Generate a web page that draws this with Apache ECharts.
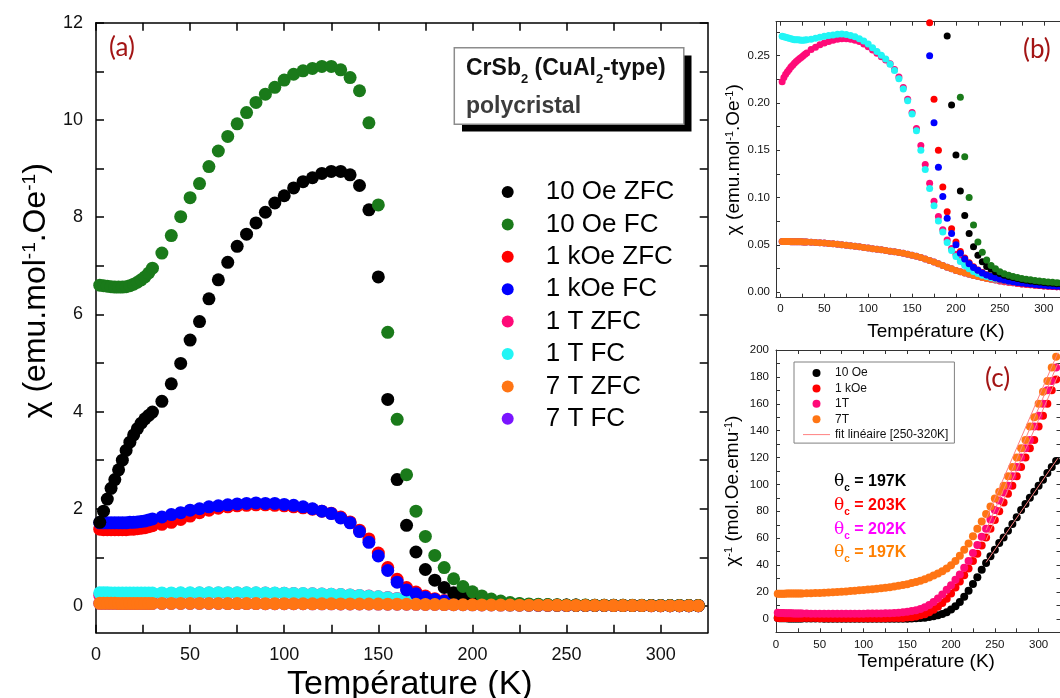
<!DOCTYPE html>
<html><head><meta charset="utf-8">
<script src="https://cdn.jsdelivr.net/npm/echarts@6/dist/echarts.min.js"></script>
<style>html,body{margin:0;padding:0;background:#fff}#c{width:1060px;height:698px}</style>
</head><body><div id="c"></div>
<script>
// ---------- DATA ----------
const TEMPS = [2,4,6,8,10,12,14,16,18,20,22,24,26,28,30,35,40,45,50,55,60,65,70,75,80,85,90,95,100,105,110,115,120,125,130,135,140,145,150,155,160,165,170,175,180,185,190,195,200,205,210,215,220,225,230,235,240,245,250,255,260,265,270,275,280,285,290,295,300,305,310,315,320];

// chi (emu/mol/Oe), panels (a) and (b)
const chi10Oe_ZFC = [1.72,1.95,2.20,2.42,2.60,2.80,3.00,3.20,3.37,3.52,3.65,3.76,3.85,3.92,3.99,
 4.21,4.57,4.99,5.47,5.85,6.32,6.71,7.07,7.40,7.65,7.88,8.10,8.29,8.44,
 8.60,8.73,8.81,8.90,8.94,8.94,8.87,8.65,8.15,6.77,4.25,2.60,1.66,1.11,
 0.75,0.53,0.38,0.271,0.198,0.145,0.107,0.081,0.062,0.048,0.039,0.032,0.027,0.024,
 0.0215,0.0195,0.0178,0.0165,0.0153,0.0142,0.0133,0.0124,0.0117,0.0111,0.0105,0.0100,0.0096,0.0092,0.0088,0.0085];
const chi10Oe_FC = [6.60,6.59,6.58,6.57,6.56,6.56,6.56,6.57,6.59,6.62,6.66,6.71,6.77,6.85,6.95,
 7.26,7.62,8.01,8.40,8.69,9.04,9.36,9.66,9.92,10.15,10.36,10.53,10.67,10.82,
 10.94,11.01,11.06,11.10,11.10,11.03,10.87,10.60,9.94,8.25,5.63,3.84,2.70,1.95,
 1.43,1.04,0.79,0.56,0.40,0.29,0.206,0.143,0.100,0.071,0.053,0.042,0.034,0.028,
 0.0245,0.0215,0.0193,0.0177,0.0164,0.0153,0.0144,0.0136,0.0129,0.0123,0.0117,0.0112,0.0107,0.0103,0.0099,0.0096];
const chi1kOe_ZFC = [1.58,1.57,1.57,1.57,1.57,1.57,1.57,1.57,1.58,1.58,1.59,1.60,1.61,1.63,1.65,
 1.68,1.72,1.78,1.85,1.92,1.97,2.01,2.04,2.06,2.07,2.08,2.08,2.07,2.06,
 2.04,2.02,1.99,1.95,1.91,1.83,1.73,1.56,1.38,1.09,0.79,0.55,0.38,0.285,
 0.204,0.150,0.111,0.085,0.067,0.053,0.043,0.036,0.031,0.0267,0.0233,0.0206,0.0183,0.0165,
 0.0149,0.0136,0.0125,0.0116,0.0108,0.0101,0.0094,0.0088,0.0083,0.0079,0.0075,0.0070,0.0066,0.0063,0.0059,0.0056];
const chi1kOe_FC = [1.71,1.71,1.71,1.71,1.71,1.71,1.71,1.71,1.72,1.72,1.73,1.74,1.75,1.77,1.79,
 1.83,1.88,1.92,1.97,2.00,2.04,2.06,2.08,2.10,2.11,2.12,2.11,2.11,2.09,
 2.07,2.04,2.00,1.95,1.90,1.81,1.71,1.53,1.31,1.03,0.73,0.49,0.33,0.250,
 0.179,0.132,0.101,0.078,0.062,0.050,0.041,0.035,0.030,0.026,0.023,0.020,0.018,0.0165,
 0.0150,0.0137,0.0126,0.0117,0.0109,0.0102,0.0095,0.0089,0.0084,0.0079,0.0075,0.0071,0.0067,0.0063,0.0060,0.0057];
const chi1T_ZFC = [0.2225,0.227,0.2305,0.233,0.2355,0.238,0.240,0.242,0.244,0.2455,0.247,0.2485,0.250,0.2515,0.253,
 0.2565,0.259,0.2615,0.2635,0.265,0.2665,0.2675,0.268,0.268,0.2675,0.2665,0.265,0.2625,0.2595,
 0.256,0.2525,0.249,0.2455,0.2415,0.2355,0.2275,0.2165,0.204,0.190,0.173,0.155,0.135,0.115,
 0.096,0.080,0.066,0.055,0.046,0.040,0.034,0.030,0.0263,0.0233,0.0204,0.0182,0.0164,0.0149,
 0.0135,0.0123,0.0114,0.0106,0.0101,0.0094,0.0088,0.0083,0.0079,0.0075,0.0070,0.0066,0.0063,0.0059,0.0056,0.0053];
const chi1T_FC = [0.2705,0.270,0.2695,0.269,0.2685,0.268,0.2675,0.267,0.267,0.2668,0.2666,0.2665,0.2665,0.2666,0.2668,
 0.2675,0.2685,0.2695,0.2705,0.2715,0.272,0.2728,0.273,0.2725,0.2715,0.270,0.268,0.2655,0.2625,
 0.2585,0.2545,0.2505,0.2465,0.241,0.2344,0.2256,0.2147,0.2024,0.1883,0.1706,0.150,0.1297,0.1096,
 0.0913,0.0751,0.0635,0.0525,0.044,0.0377,0.0324,0.028,0.0245,0.0218,0.0196,0.0178,0.0163,0.0150,
 0.0139,0.0130,0.0121,0.0114,0.0108,0.0102,0.0097,0.0092,0.0088,0.0084,0.0080,0.0077,0.0074,0.0071,0.0068,0.0066];
const chi7T_ZFC = [0.0535,0.0535,0.0534,0.0534,0.0534,0.0533,0.0533,0.0533,0.0532,0.0532,0.0531,0.0531,0.0530,0.0530,0.0529,
 0.0527,0.0524,0.0521,0.0518,0.0514,0.0510,0.0506,0.0501,0.0496,0.0490,0.0484,0.0478,0.0472,0.0465,
 0.0459,0.0452,0.0446,0.0439,0.0432,0.0425,0.0418,0.0410,0.0400,0.0390,0.0378,0.0365,0.0350,0.0334,
 0.0317,0.0299,0.0280,0.0262,0.0245,0.0229,0.0214,0.0200,0.0187,0.0175,0.0164,0.0154,0.0144,0.0135,
 0.0126,0.0118,0.0110,0.0103,0.0097,0.0091,0.0086,0.0081,0.0076,0.0072,0.0068,0.0064,0.0061,0.0058,0.0055,0.0052];
// 7 T FC lies underneath 7 T ZFC in the picture (indistinguishable)
const chi7T_FC = chi7T_ZFC;

// inverse chi (mol.Oe/emu), panel (c)
const inv10Oe = [0.58,0.51,0.45,0.41,0.38,0.36,0.33,0.31,0.30,0.28,0.27,0.27,0.26,0.26,0.25,
 0.24,0.22,0.20,0.18,0.17,0.16,0.15,0.14,0.14,0.13,0.13,0.12,0.12,0.12,
 0.12,0.11,0.11,0.11,0.11,0.11,0.11,0.12,0.12,0.15,0.24,0.38,0.60,0.90,
 1.3,1.9,2.6,3.7,5.0,6.9,9.3,12.5,16.5,21,26,31,36.5,41.5,
 46.5,51.5,56.5,60.5,65.5,70.5,75.5,81,85.5,90,94.5,99,103.5,108.5,113,117.5];
const inv1kOe = [0.63,0.64,0.64,0.64,0.64,0.64,0.64,0.64,0.63,0.63,0.63,0.63,0.62,0.61,0.61,
 0.60,0.58,0.56,0.54,0.52,0.51,0.50,0.49,0.49,0.48,0.48,0.48,0.48,0.49,
 0.49,0.50,0.50,0.51,0.52,0.55,0.58,0.64,0.72,0.92,1.27,1.82,2.6,3.5,
 4.9,6.7,9.0,11.8,14.9,18.9,23.3,27.8,32.5,37.5,43,48.5,54.5,60.5,
 67,73.5,80,86.5,93,99,106,113,120,127,133,143,151,160,170,178];
const inv1T = [4.50,4.41,4.34,4.29,4.25,4.20,4.17,4.13,4.10,4.07,4.05,4.02,4.00,3.98,3.95,
 3.90,3.86,3.82,3.80,3.77,3.75,3.74,3.73,3.73,3.74,3.75,3.77,3.81,3.85,
 3.90,3.96,4.02,4.07,4.15,4.26,4.40,4.63,4.90,5.26,5.80,6.45,7.40,8.70,
 10.4,12.5,15.2,18.2,21.7,25,29,33,38,43,49,55,61,67,
 74,81,88,94,99,106,113,120,127,133,143,151,160,170,177,187];
const inv7T = [18.7,18.7,18.7,18.7,18.7,18.8,18.8,18.8,18.8,18.8,18.8,18.8,18.9,18.9,18.9,
 19.0,19.1,19.2,19.3,19.5,19.6,19.8,20.0,20.2,20.4,20.7,20.9,21.2,21.5,
 21.8,22.1,22.4,22.8,23.2,23.6,24.1,24.6,25.2,25.8,26.6,27.4,28.4,29.5,
 30.8,32.2,33.8,35.5,37.5,39.8,43,47,51.5,56,61.5,67,72.5,78,
 83.5,89.5,94.5,99,106,113,120,127,133,143,150,160,169,177,187,195];
// linear fits [250-320 K] (end points)
const FIT_T = [240, 322];
const fit10Oe = [42, 119.5];
const fit1kOe = [58.6, 181];
const fit1T = [66, 190];
const fit7T = [74.4, 198];

// tick / label values
const X_TICKS = [0,25,50,75,100,125,150,175,200,225,250,275,300];
const X_LABELS = [0,50,100,150,200,250,300];
const A_Y_TICKS = [0,1,2,3,4,5,6,7,8,9,10,11,12];
const A_Y_LABELS = [0,2,4,6,8,10,12];
const B_Y_TICKS = [0,0.025,0.05,0.075,0.1,0.125,0.15,0.175,0.2,0.225,0.25,0.275];
const B_Y_LABELS = [0,0.05,0.1,0.15,0.2,0.25];
const C_Y_TICKS = [0,10,20,30,40,50,60,70,80,90,100,110,120,130,140,150,160,170,180,190,200];
const C_Y_LABELS = [0,20,40,60,80,100,120,140,160,180,200];

const NAMES_A = ['10 Oe ZFC','10 Oe FC','1 kOe ZFC','1 kOe FC','1 T ZFC','1 T FC','7 T ZFC','7 T FC'];
const NAMES_C = ['10 Oe','1 kOe','1T','7T'];
const FIT_NAME = 'fit linéaire [250-320K]';

// ---------- CHART ----------
const FONT = '"Liberation Sans", Arial, sans-serif';
const COL = {k:'#000000', g:'#1a7a1a', r:'#ff0000', b:'#0000ff', p:'#ff0a78', c:'#22f5f5', o:'#ff7514', v:'#7a14ff'};
const pairs = (t, v) => t.map((x, i) => [x, v[i]]);

function axis(o) {
  return {
    type: 'value', gridIndex: o.g, min: o.min, max: o.max, position: o.pos,
    axisLine: {show: true, onZero: false, lineStyle: {color: o.c, width: o.lw}},
    axisTick: {show: true, inside: true, length: o.tl, customValues: o.ticks, lineStyle: {color: o.c, width: o.lw}},
    axisLabel: {show: !!o.labels, customValues: o.labels || o.ticks, fontSize: o.fs || 12, color: '#111', fontFamily: FONT, margin: o.m || 8,
      formatter: o.fmt || (v => String(v))},
    minorTick: {show: false},
    splitLine: {show: false},
    name: o.name || '', nameLocation: 'middle', nameGap: o.ng || 0, nameMoveOverlap: false,
    nameTextStyle: o.nts || {}
  };
}
const sup = (fs, pb) => ({fontSize: fs, fontFamily: FONT, color: '#000', verticalAlign: 'bottom', padding: [0, 0, pb, 0]});

const xAxis = [
  axis({g:0,min:0,max:325,pos:'bottom',c:'#000',lw:1.5,tl:8,ticks:X_TICKS,labels:X_LABELS,fs:18,m:13,
    name:'Température (K)', ng:35, nts:{fontSize:34,fontFamily:FONT,color:'#000',padding:[0,0,0,16]}}),
  axis({g:0,min:0,max:325,pos:'top',c:'#000',lw:1.5,tl:8,ticks:X_TICKS}),
  axis({g:1,min:-5,max:325,pos:'bottom',c:'#333',lw:1,tl:4,ticks:X_TICKS,labels:X_LABELS,fs:11.5,m:5,
    name:'Température (K)', ng:25, nts:{fontSize:19,fontFamily:FONT,color:'#000',padding:[0,0,0,30]}}),
  axis({g:1,min:-5,max:325,pos:'top',c:'#333',lw:1,tl:4,ticks:X_TICKS}),
  axis({g:2,min:0,max:325,pos:'bottom',c:'#333',lw:1,tl:4,ticks:X_TICKS,labels:X_LABELS,fs:11.5,m:7,
    name:'Température (K)', ng:20, nts:{fontSize:19,fontFamily:FONT,color:'#000',padding:[0,0,0,16]}}),
  axis({g:2,min:0,max:325,pos:'top',c:'#333',lw:1,tl:4,ticks:X_TICKS})
];
const yAxis = [
  axis({g:0,min:-0.55,max:12,pos:'left',c:'#000',lw:1.5,tl:8,ticks:A_Y_TICKS,labels:A_Y_LABELS,fs:18,m:13,
    name:'χ (emu.mol{s|-1}.Oe{s|-1})', ng:44,
    nts:{fontSize:32,fontFamily:FONT,color:'#000',padding:[0,0,0,74],rich:{s:sup(19,13)}}}),
  axis({g:0,min:-0.55,max:12,pos:'right',c:'#000',lw:1.5,tl:8,ticks:A_Y_TICKS}),
  axis({g:1,min:-0.006,max:0.286,pos:'left',c:'#333',lw:1,tl:4,ticks:B_Y_TICKS,labels:B_Y_LABELS,fs:11.5,m:6,
    fmt:v=>v.toFixed(2),
    name:'χ (emu.mol{s|-1}.Oe{s|-1})', ng:33, nts:{fontSize:19,fontFamily:FONT,color:'#000',rich:{s:sup(11,8)}}}),
  axis({g:1,min:-0.006,max:0.286,pos:'right',c:'#333',lw:1,tl:4,ticks:B_Y_TICKS}),
  axis({g:2,min:-10,max:200,pos:'left',c:'#333',lw:1,tl:4,ticks:C_Y_TICKS,labels:C_Y_LABELS,fs:11.5,m:7,
    name:'χ{s|-1} (mol.Oe.emu{s|-1})', ng:34, nts:{fontSize:19,fontFamily:FONT,color:'#000',rich:{s:sup(11,8)}}}),
  axis({g:2,min:-10,max:200,pos:'right',c:'#333',lw:1,tl:4,ticks:C_Y_TICKS})
];

function sc(name, data, color, axisIdx, size) {
  return {type:'scatter', name, data: pairs(TEMPS, data), xAxisIndex: axisIdx, yAxisIndex: axisIdx,
    symbol:'circle', symbolSize: size, itemStyle:{color, opacity:1}, clip:true, silent:true};
}
const series = [];
// panel (a)
series.push(sc('7 T FC', chi7T_FC, COL.v, 0, 13));
series.push(sc('1 T ZFC', chi1T_ZFC, COL.p, 0, 13));
series.push(sc('1 T FC', chi1T_FC, COL.c, 0, 13));
series.push(sc('1 kOe ZFC', chi1kOe_ZFC, COL.r, 0, 13));
series.push(sc('1 kOe FC', chi1kOe_FC, COL.b, 0, 13));
series.push(sc('10 Oe ZFC', chi10Oe_ZFC, COL.k, 0, 13));
series.push(sc('10 Oe FC', chi10Oe_FC, COL.g, 0, 13));
series.push(sc('7 T ZFC', chi7T_ZFC, COL.o, 0, 13));
// panel (b)
series.push(sc('7 T FC', chi7T_FC, COL.v, 2, 7));
series.push(sc('7 T ZFC', chi7T_ZFC, COL.o, 2, 7));
series.push(sc('1 T ZFC', chi1T_ZFC, COL.p, 2, 7));
series.push(sc('1 T FC', chi1T_FC, COL.c, 2, 7));
series.push(sc('1 kOe ZFC', chi1kOe_ZFC, COL.r, 2, 7));
series.push(sc('1 kOe FC', chi1kOe_FC, COL.b, 2, 7));
series.push(sc('10 Oe ZFC', chi10Oe_ZFC, COL.k, 2, 7));
series.push(sc('10 Oe FC', chi10Oe_FC, COL.g, 2, 7));
// panel (c)
series.push(sc('10 Oe', inv10Oe, COL.k, 4, 8));
series.push(sc('1 kOe', inv1kOe, COL.r, 4, 8));
series.push(sc('1T', inv1T, COL.p, 4, 8));
series.push(sc('7T', inv7T, COL.o, 4, 8));
[fit10Oe, fit1kOe, fit1T, fit7T].forEach(f => series.push({
  type:'line', name: FIT_NAME, data: pairs(FIT_T, f), xAxisIndex:4, yAxisIndex:4,
  symbol:'none', showSymbol:false, lineStyle:{color:'#ff8080', width:1}, itemStyle:{color:'#ff8080'}, silent:true, z:3
}));

const theta = (y, color, val) => ({
  type:'text', x:834, y, z:20,
  style:{text:'{t|θ}{c|c}{v| = ' + val + '}', fill:color, verticalAlign:'middle',
    rich:{t:{fontSize:17, fontFamily:'"DejaVu Serif", serif', fill:color},
          c:{fontSize:10, fontWeight:'bold', fontFamily:FONT, fill:color, verticalAlign:'top', padding:[14,0,0,0]},
          v:{fontSize:16, fontWeight:'bold', fontFamily:FONT, fill:color}}}
});

const option = {
  animation:false,
  backgroundColor:'#fff',
  textStyle:{fontFamily:FONT},
  grid:[
    {left:96, top:22.7, width:611.7, height:610, containLabel:false, outerBoundsMode:'none'},
    {left:776, top:21.7, width:289.7, height:276, containLabel:false, outerBoundsMode:'none'},
    {left:776, top:350, width:284.5, height:282.3, containLabel:false, outerBoundsMode:'none'}
  ],
  xAxis, yAxis, series,
  legend:[
    {data:NAMES_A, orient:'vertical', left:501.7, top:179, itemWidth:66, itemHeight:12, itemGap:6.4, padding:0,
     icon:'circle', selectedMode:false, textStyle:{fontSize:26, lineHeight:26, fontFamily:FONT, color:'#000'}},
    {data:[...NAMES_C, {name:FIT_NAME, icon:'path://M0,0 H27 V1 H0 Z'}], orient:'vertical', left:794, top:362, itemWidth:27, itemHeight:8, itemGap:3.4,
     padding:[5,6,2.5,9], borderColor:'#808080', borderWidth:1, selectedMode:false,
     textStyle:{fontSize:12, lineHeight:12, fontFamily:FONT, color:'#111'}}
  ],
  graphic:[
    {type:'rect', z:10, shape:{x:462, y:55.5, width:229.5, height:76}, style:{fill:'#000'}},
    {type:'rect', z:11, shape:{x:454.3, y:47.7, width:229.5, height:76.5}, style:{fill:'#fff', stroke:'#8c8c8c', lineWidth:1.5}},
    {type:'text', z:12, x:466, y:69, style:{text:'CrSb{s|2} (CuAl{s|2}-type)', fill:'#111', verticalAlign:'middle',
      fontSize:23, fontWeight:'bold', fontFamily:FONT,
      rich:{s:{fontSize:13, fontWeight:'bold', fontFamily:FONT, fill:'#111', verticalAlign:'top', padding:[21,0,0,0]}}}},
    {type:'text', z:12, x:466, y:107, style:{text:'polycristal', fill:'#3c3c3c', verticalAlign:'middle',
      fontSize:23, fontWeight:'bold', fontFamily:FONT}},
    {type:'text', z:12, x:109, y:48, style:{text:'(a)', fill:'#a31515', verticalAlign:'middle', fontSize:26, fontFamily:'Lato, sans-serif'}},
    {type:'text', z:12, x:1023, y:50, style:{text:'(b)', fill:'#a31515', verticalAlign:'middle', fontSize:26, fontFamily:'Lato, sans-serif'}},
    {type:'text', z:12, x:985, y:379, style:{text:'(c)', fill:'#a31515', verticalAlign:'middle', fontSize:26, fontFamily:'Lato, sans-serif'}},
    theta(481.7, '#000000', '197K'),
    theta(505.7, '#ff0000', '203K'),
    theta(529.3, '#ff00ff', '202K'),
    theta(552.7, '#ff7f00', '197K')
  ]
};
const chart = echarts.init(document.getElementById('c'), null, {renderer:'canvas', width:1060, height:698});
chart.setOption(option);
</script></body></html>
